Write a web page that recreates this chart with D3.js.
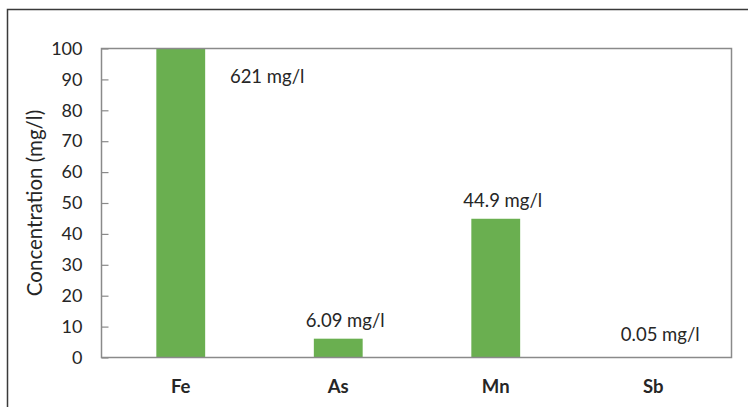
<!DOCTYPE html>
<html>
<head>
<meta charset="utf-8">
<script src="https://cdn.jsdelivr.net/npm/d3@7"></script>
<style>
  html, body { margin: 0; padding: 0; background: #fff; }
  svg { display: block; }
  text { font-family: Lato, "Open Sans", sans-serif; fill: #262626; }
</style>
</head>
<body>
<svg id="chart" width="748" height="407"></svg>
<script>
// Dissolved metal concentrations
const elements = ["Fe", "As", "Mn", "Sb"];
const concentrations = [621, 6.09, 44.9, 0.05];
const valueLabels = ["621 mg/l", "6.09 mg/l", "44.9 mg/l", "0.05 mg/l"];
const yTicks = [0, 10, 20, 30, 40, 50, 60, 70, 80, 90, 100];
const yTitle = "Concentration (mg/l)";

const svg = d3.select("#chart");
const W = 748, H = 407;
const plot = { left: 101.5, right: 731.5, top: 48.5, bottom: 357.5 };
const FONT = "Lato, 'Open Sans', sans-serif";

// outer frame (top and left edges)
svg.append("path")
  .attr("d", `M7.5,${H} V9.5 H${W}`)
  .attr("fill", "none").attr("stroke", "#3a3a3a").attr("stroke-width", 1.5);

const x = d3.scaleBand().domain(elements).range([plot.left, plot.right]).padding(0);
const y = d3.scaleLinear().domain([0, 100]).range([plot.bottom, plot.top]);
const barW = x.bandwidth() * 0.31;
const cx = e => x(e) + x.bandwidth() / 2 + 0.5;

// bars, clipped to the axis maximum
svg.append("g").selectAll("rect")
  .data(elements.map((e, i) => ({ e, v: concentrations[i] })))
  .join("rect")
  .attr("x", d => cx(d.e) - barW / 2)
  .attr("width", barW)
  .attr("y", d => y(Math.min(d.v, 100)))
  .attr("height", d => y(0) - y(Math.min(d.v, 100)))
  .attr("fill", "#6aaf50");

// plot frame
svg.append("rect")
  .attr("x", plot.left).attr("y", plot.top)
  .attr("width", plot.right - plot.left).attr("height", plot.bottom - plot.top)
  .attr("fill", "none").attr("stroke", "#8a8a8a").attr("stroke-width", 1.5);

// y axis with inside ticks
const yAxis = d3.axisLeft(y).tickValues(yTicks).tickSize(-7).tickPadding(19);
const gy = svg.append("g").attr("transform", `translate(${plot.left},0)`).call(yAxis);
gy.select(".domain").remove();
gy.selectAll(".tick line").attr("stroke", "#8a8a8a").attr("stroke-width", 1.2);
gy.selectAll(".tick text")
  .style("font-family", FONT)
  .style("font-size", "18px").attr("fill", "#262626");

// x axis category labels
const xAxis = d3.axisBottom(x).tickSize(0);
const gx = svg.append("g").attr("transform", `translate(0.5,${plot.bottom})`).call(xAxis);
gx.select(".domain").remove();
gx.selectAll(".tick text")
  .attr("y", 35).attr("dy", null)
  .style("font-family", FONT)
  .style("font-size", "18.5px").style("font-weight", "bold").attr("fill", "#262626");

// value labels above each bar; the clipped Fe bar carries its label beside it
svg.append("g").selectAll("text")
  .data(elements.map((e, i) => ({ e, v: concentrations[i], t: valueLabels[i] })))
  .join("text")
  .attr("x", d => d.v > 100 ? cx(d.e) + barW / 2 + 62 : cx(d.e) + 7)
  .attr("y", d => d.v > 100 ? y(100) + 34 : Math.min(y(d.v) - 11.5, y(0) - 17))
  .attr("text-anchor", "middle")
  .style("font-size", "18.5px")
  .text(d => d.t);

// y axis title
svg.append("text")
  .attr("transform", `translate(42,${(plot.top + plot.bottom) / 2}) rotate(-90)`)
  .attr("text-anchor", "middle")
  .style("font-size", "20.5px")
  .text(yTitle);
</script>
</body>
</html>
